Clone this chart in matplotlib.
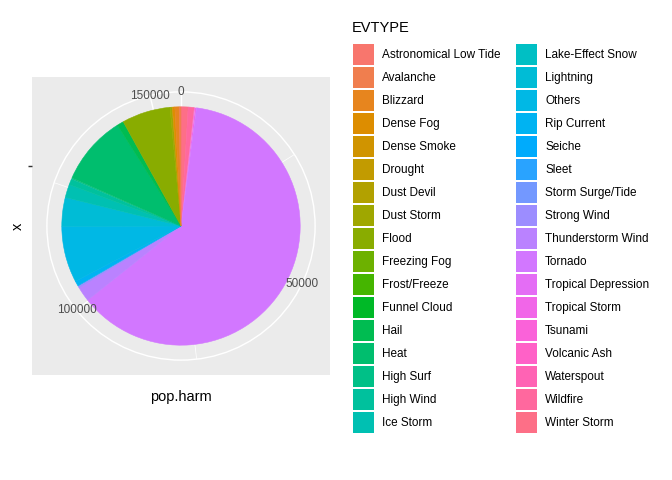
import numpy as np
import matplotlib
matplotlib.use("Agg")
import matplotlib.pyplot as plt
from matplotlib.patches import Circle, Rectangle

plt.rcParams['font.family'] = ['Liberation Sans', 'DejaVu Sans']

# ---------------------------
# Data (fatalities + injuries per event type)
# ---------------------------
evtypes = ['Astronomical Low Tide', 'Avalanche', 'Blizzard', 'Dense Fog', 'Dense Smoke',
           'Drought', 'Dust Devil', 'Dust Storm', 'Flood', 'Freezing Fog', 'Frost/Freeze',
           'Funnel Cloud', 'Hail', 'Heat', 'High Surf', 'High Wind', 'Ice Storm',
           'Lake-Effect Snow', 'Lightning', 'Others', 'Rip Current', 'Seiche', 'Sleet',
           'Storm Surge/Tide', 'Strong Wind', 'Thunderstorm Wind', 'Tornado',
           'Tropical Depression', 'Tropical Storm', 'Tsunami', 'Volcanic Ash',
           'Waterspout', 'Wildfire', 'Winter Storm']
pop_harm = [0, 390, 900, 500, 0,
            19, 43, 440, 10250, 10, 3,
            3, 1400, 14700, 230, 1250, 2800,
            0, 6100, 11870, 1100, 0, 0,
            60, 400, 3100, 96979,
            0, 300, 160, 0,
            30, 1250, 1500]
theta_breaks = [0, 50000, 100000, 150000]


def hcl_hex(h, c=100.0, l=65.0):
    # same as R's hcl(): polar CIE-LUV, D65 white
    un, vn = 0.1978398, 0.4683363
    hr = np.deg2rad(h)
    U, V = c * np.cos(hr), c * np.sin(hr)
    Y = ((l + 16) / 116) ** 3
    u = U / (13 * l) + un
    v = V / (13 * l) + vn
    X = 9.0 * Y * u / (4 * v)
    Z = -X / 3 - 5 * Y + 3 * Y / v
    rgb = np.array([3.240479 * X - 1.537150 * Y - 0.498535 * Z,
                    -0.969256 * X + 1.875992 * Y + 0.041556 * Z,
                    0.055648 * X - 0.204043 * Y + 1.057311 * Z])
    rgb = np.where(rgb > 0.00304, 1.055 * np.abs(rgb) ** (1 / 2.4) - 0.055, 12.92 * rgb)
    rgb = np.clip(rgb, 0, 1)
    return '#%02X%02X%02X' % tuple(int(round(x * 255)) for x in rgb)


n = len(evtypes)
hues = np.linspace(15, 375, n + 1)[:n]
colors = [hcl_hex(h) for h in hues]

W, H = 672, 480
fig = plt.figure(figsize=(7, 5), dpi=96)

# ---------------------------
# Panel (ggplot coord_polar, native units 0..1)
# ---------------------------
px0, py0, pw = 32, 77, 298
ax = fig.add_axes([px0 / W, 1 - (py0 + pw) / H, pw / W, pw / H])
ax.set_facecolor('#EBEBEB')
for s in ax.spines.values():
    s.set_visible(False)

total = float(sum(pop_harm))
minor = [(a + b) / 2 for a, b in zip(theta_breaks[:-1], theta_breaks[1:])]
for b, lw in [(m, 0.53) for m in minor] + [(b, 1.07) for b in theta_breaks]:
    t = 2 * np.pi * b / total
    ax.plot([0.5, 0.5 + 0.45 * np.sin(t)], [0.5, 0.5 + 0.45 * np.cos(t)],
            color='white', lw=lw, zorder=1, solid_capstyle='butt')
for r in (0.2, 0.45):
    ax.add_patch(Circle((0.5, 0.5), r, fill=False, ec='white', lw=1.07, zorder=1))

# stack: last level starts at 0 and goes clockwise
vals = pop_harm[::-1]
cols = colors[::-1]
wedges, _ = ax.pie(vals, colors=cols, startangle=90, counterclock=False,
                   radius=0.4, center=(0.5, 0.5), frame=True,
                   wedgeprops=dict(linewidth=0))
for w, v, c in zip(wedges, vals, cols):
    w.set_zorder(2)
    if v / total > 0.002:
        w.set_edgecolor(c)
        w.set_linewidth(0.4)

for b in theta_breaks:
    t = 2 * np.pi * b / total
    ax.text(0.5 + 0.45 * np.sin(t), 0.5 + 0.45 * np.cos(t), str(b),
            ha='center', va='center', fontsize=8.8, color='#4D4D4D', zorder=3)

ax.set_xlim(0, 1)
ax.set_ylim(0, 1)
ax.set_aspect('auto')
ax.set_xticks([])
ax.set_yticks([0.7])
ax.set_yticklabels([''])
ax.tick_params(axis='y', length=2.75, width=1.07, color='#333333', pad=0)
ax.set_xlabel('pop.harm', fontsize=11, labelpad=11)
ax.set_ylabel('x', fontsize=11, labelpad=3)

# ---------------------------
# Legend (drawn in pixel coordinates)
# ---------------------------
lg = fig.add_axes([0, 0, 1, 1], facecolor='none')
lg.set_xlim(0, W)
lg.set_ylim(H, 0)
lg.axis('off')
lg.text(352, 28, 'EVTYPE', fontsize=11, ha='left', va='center')
rows = (n + 1) // 2
for i, (name, c) in enumerate(zip(evtypes, colors)):
    col, row = divmod(i, rows)
    kx = 352 + col * 163
    ky = 44 + row * 23
    lg.add_patch(Rectangle((kx + 1, ky), 21, 21, facecolor=c, edgecolor='none'))
    lg.text(kx + 30, ky + 11, name, fontsize=8.8, ha='left', va='center')

fig.savefig('out.png', dpi=96)
